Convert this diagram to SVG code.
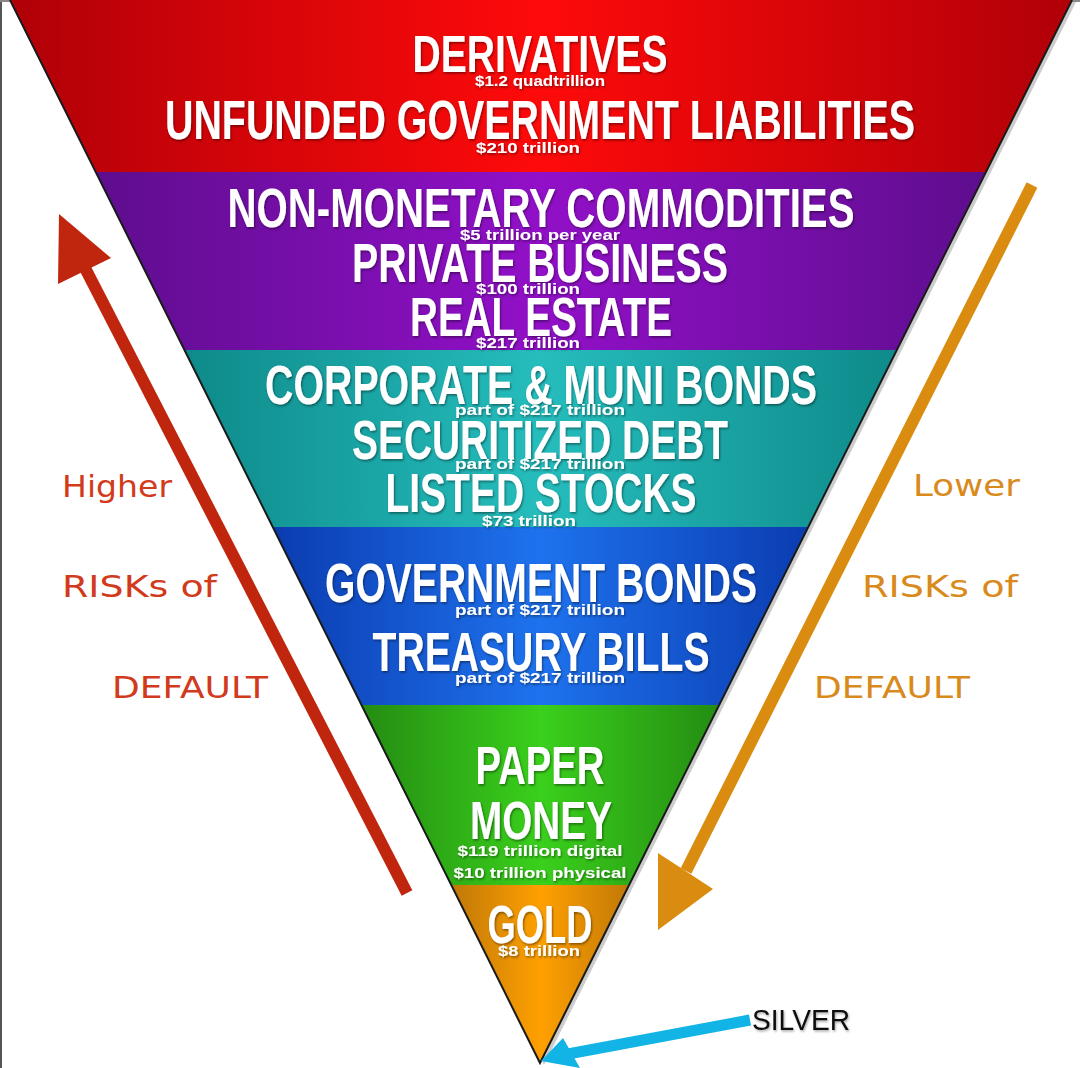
<svg xmlns="http://www.w3.org/2000/svg" width="1080" height="1068" viewBox="0 0 1080 1068">
<defs>
<style>
.t{font-family:"Liberation Sans",Arial,sans-serif;font-weight:bold;fill:#fff;text-anchor:middle;filter:url(#sh)}
.big{font-size:56px}
.sm{font-size:14px}
.hl{font-family:"DejaVu Sans","Noto Sans",sans-serif;font-size:30px;fill:#d23a1c}
.hr{font-family:"DejaVu Sans","Noto Sans",sans-serif;font-size:30px;fill:#d98a1c}
</style>
<filter id="sh" x="-5%" y="-20%" width="110%" height="140%">
<feDropShadow dx="1" dy="1.5" stdDeviation="1" flood-color="#000" flood-opacity="0.45"/>
</filter>
<filter id="sh2" x="-10%" y="-20%" width="120%" height="140%">
<feDropShadow dx="1" dy="1.5" stdDeviation="1" flood-color="#000" flood-opacity="0.35"/>
</filter>
<clipPath id="tri"><polygon points="10,0 1072,0 540,1063"/></clipPath>
<linearGradient id="gRed" gradientUnits="userSpaceOnUse" x1="10" y1="0" x2="1072" y2="0">
<stop offset="0" stop-color="#b00008"/><stop offset="0.5" stop-color="#ff0a0a"/><stop offset="1" stop-color="#b00008"/></linearGradient>
<linearGradient id="gPur" gradientUnits="userSpaceOnUse" x1="95" y1="0" x2="987" y2="0">
<stop offset="0" stop-color="#5e0d8e"/><stop offset="0.5" stop-color="#9210c8"/><stop offset="1" stop-color="#5e0d8e"/></linearGradient>
<linearGradient id="gTeal" gradientUnits="userSpaceOnUse" x1="185" y1="0" x2="897" y2="0">
<stop offset="0" stop-color="#0e8a8a"/><stop offset="0.5" stop-color="#26bdbd"/><stop offset="1" stop-color="#0e8a8a"/></linearGradient>
<linearGradient id="gBlue" gradientUnits="userSpaceOnUse" x1="273" y1="0" x2="809" y2="0">
<stop offset="0" stop-color="#0b3cb0"/><stop offset="0.5" stop-color="#1e72ee"/><stop offset="1" stop-color="#0b3cb0"/></linearGradient>
<linearGradient id="gGrn" gradientUnits="userSpaceOnUse" x1="362" y1="0" x2="720" y2="0">
<stop offset="0" stop-color="#248c12"/><stop offset="0.5" stop-color="#3ad01c"/><stop offset="1" stop-color="#248c12"/></linearGradient>
<linearGradient id="gOr" gradientUnits="userSpaceOnUse" x1="452" y1="0" x2="630" y2="0">
<stop offset="0" stop-color="#c07808"/><stop offset="0.5" stop-color="#ffa000"/><stop offset="1" stop-color="#c07808"/></linearGradient>
</defs>
<rect width="1080" height="1068" fill="#fff"/>
<line x1="1" y1="0" x2="1" y2="1068" stroke="#555" stroke-width="2"/>
<line x1="0" y1="1" x2="1080" y2="1" stroke="#888" stroke-width="2"/>

<g id="pyramid">
<polygon points="10,0 1072,0 540,1063" fill="#000" opacity="0.2" transform="translate(4,2)"/>
<g clip-path="url(#tri)">
<rect x="0" y="0" width="1080" height="172" fill="url(#gRed)"/>
<rect x="0" y="172" width="1080" height="178" fill="url(#gPur)"/>
<rect x="0" y="350" width="1080" height="177" fill="url(#gTeal)"/>
<rect x="0" y="527" width="1080" height="178" fill="url(#gBlue)"/>
<rect x="0" y="705" width="1080" height="180" fill="url(#gGrn)"/>
<rect x="0" y="885" width="1080" height="180" fill="url(#gOr)"/>
</g>
<polyline points="10,0 540,1063 1072,0" fill="none" stroke="#1a1a1a" stroke-width="2"/>
</g>

<g id="band-red">
<text class="t" x="540" y="72" textLength="255" lengthAdjust="spacingAndGlyphs" style="font-size:52px">DERIVATIVES</text>
<text class="t sm" x="540" y="86" textLength="130" lengthAdjust="spacingAndGlyphs">$1.2 quadtrillion</text>
<text class="t big" x="540" y="139" textLength="750" lengthAdjust="spacingAndGlyphs">UNFUNDED GOVERNMENT LIABILITIES</text>
<text class="t sm" x="528" y="153" textLength="104" lengthAdjust="spacingAndGlyphs">$210 trillion</text>
</g>
<g id="band-purple">
<text class="t big" x="541" y="227" textLength="627" lengthAdjust="spacingAndGlyphs">NON-MONETARY COMMODITIES</text>
<text class="t sm" x="540" y="240" textLength="160" lengthAdjust="spacingAndGlyphs">$5 trillion per year</text>
<text class="t big" x="540" y="282" textLength="376" lengthAdjust="spacingAndGlyphs">PRIVATE BUSINESS</text>
<text class="t sm" x="528" y="294" textLength="104" lengthAdjust="spacingAndGlyphs">$100 trillion</text>
<text class="t big" x="541" y="336" textLength="262" lengthAdjust="spacingAndGlyphs">REAL ESTATE</text>
<text class="t sm" x="528" y="348" textLength="104" lengthAdjust="spacingAndGlyphs">$217 trillion</text>
</g>
<g id="band-teal">
<text class="t big" x="541" y="404" textLength="552" lengthAdjust="spacingAndGlyphs">CORPORATE &amp; MUNI BONDS</text>
<text class="t sm" x="540" y="415" textLength="170" lengthAdjust="spacingAndGlyphs">part of $217 trillion</text>
<text class="t big" x="540" y="459" textLength="376" lengthAdjust="spacingAndGlyphs">SECURITIZED DEBT</text>
<text class="t sm" x="540" y="469" textLength="170" lengthAdjust="spacingAndGlyphs">part of $217 trillion</text>
<text class="t big" x="541" y="512" textLength="311" lengthAdjust="spacingAndGlyphs">LISTED STOCKS</text>
<text class="t sm" x="529" y="526" textLength="94" lengthAdjust="spacingAndGlyphs">$73 trillion</text>
</g>
<g id="band-blue">
<text class="t big" x="541" y="602" textLength="432" lengthAdjust="spacingAndGlyphs">GOVERNMENT BONDS</text>
<text class="t sm" x="540" y="615" textLength="170" lengthAdjust="spacingAndGlyphs">part of $217 trillion</text>
<text class="t big" x="541" y="671" textLength="337" lengthAdjust="spacingAndGlyphs">TREASURY BILLS</text>
<text class="t sm" x="540" y="683" textLength="170" lengthAdjust="spacingAndGlyphs">part of $217 trillion</text>
</g>
<g id="band-green">
<text class="t" x="540" y="784" textLength="129" lengthAdjust="spacingAndGlyphs" style="font-size:54px">PAPER</text>
<text class="t" x="541" y="839" textLength="142" lengthAdjust="spacingAndGlyphs" style="font-size:54px">MONEY</text>
<text class="t" x="540" y="856" textLength="165" lengthAdjust="spacingAndGlyphs" style="font-size:15px">$119 trillion digital</text>
<text class="t" x="540" y="878" textLength="173" lengthAdjust="spacingAndGlyphs" style="font-size:15px">$10 trillion physical</text>
</g>
<g id="band-orange">
<text class="t" x="540" y="943" textLength="105" lengthAdjust="spacingAndGlyphs" style="font-size:54px">GOLD</text>
<text class="t sm" x="539" y="956" textLength="82" lengthAdjust="spacingAndGlyphs">$8 trillion</text>
</g>

<g id="connectors">
<g id="arrow-higher">
<line x1="85" y1="268" x2="407" y2="893" stroke="#c0260e" stroke-width="12"/>
<polygon points="59,214 111,258 58,284" fill="#c0260e"/>
</g>
<g id="arrow-lower">
<line x1="1032" y1="185" x2="686" y2="871" stroke="#da8c10" stroke-width="12"/>
<polygon points="658,853 713,889 658,930" fill="#da8c10"/>
</g>
<g id="arrow-silver">
<line x1="750" y1="1020" x2="568" y2="1054" stroke="#12b4e6" stroke-width="11"/>
<polygon points="541,1061 563,1038 580,1068" fill="#12b4e6"/>
</g>
</g>

<g id="label-higher">
<text class="hl" x="62" y="497" textLength="110" lengthAdjust="spacingAndGlyphs">Higher</text>
<text class="hl" x="62" y="597" textLength="155" lengthAdjust="spacingAndGlyphs">RISKs of</text>
<text class="hl" x="112" y="698" textLength="156" lengthAdjust="spacingAndGlyphs">DEFAULT</text>
</g>
<g id="label-lower">
<text class="hr" x="913" y="496" textLength="107" lengthAdjust="spacingAndGlyphs">Lower</text>
<text class="hr" x="862" y="597" textLength="156" lengthAdjust="spacingAndGlyphs">RISKs of</text>
<text class="hr" x="814" y="698" textLength="156" lengthAdjust="spacingAndGlyphs">DEFAULT</text>
</g>
<g id="label-silver">
<text x="752" y="1030" textLength="98" lengthAdjust="spacingAndGlyphs" style="font-family:'Liberation Sans',Arial,sans-serif;font-size:30px;fill:#111;filter:url(#sh2)">SILVER</text>
</g>
</svg>
